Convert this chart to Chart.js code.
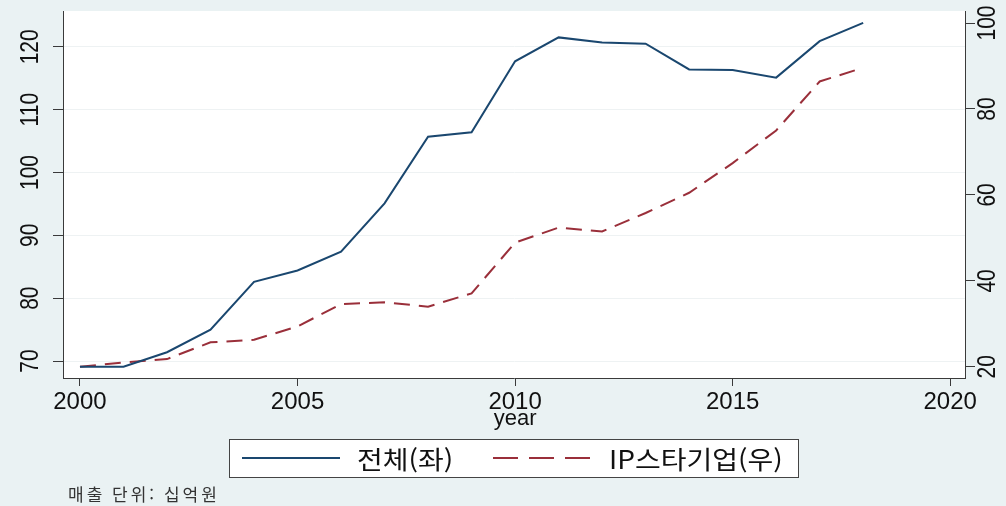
<!DOCTYPE html>
<html lang="ko">
<head>
  <meta charset="UTF-8">
  <title>매출 추이</title>
  <style>
    html, body {
      margin: 0;
      padding: 0;
      background: #eaf2f3;
    }
  </style>
  <script src="https://cdn.jsdelivr.net/npm/chart.js"></script>
</head>
<body>
  <canvas id="chartCanvas" width="1006" height="506"></canvas>

  <script>
    // years and sales (billion won); left axis = all firms, right axis = IP star firms
    const years = [2000, 2001, 2002, 2003, 2004, 2005, 2006, 2007, 2008, 2009,
                   2010, 2011, 2012, 2013, 2014, 2015, 2016, 2017, 2018];
    const totalSales = [69.1, 69.1, 71.4, 75.0, 82.6, 84.4, 87.4, 95.1, 105.7, 106.4,
                        117.7, 121.5, 120.7, 120.5, 116.4, 116.3, 115.1, 120.9, 123.8];
    const ipStarSales = [20.0, 21.0, 21.8, 25.7, 26.3, 29.4, 34.6, 35.0, 34.0, 37.1,
                         48.9, 52.4, 51.5, 55.8, 60.5, 67.4, 75.0, 86.4, 89.6];

    // tick labels
    const xTicks = [2000, 2005, 2010, 2015, 2020];
    const leftTicks = [70, 80, 90, 100, 110, 120];
    const rightTicks = [20, 40, 60, 80, 100];

    const seriesNames = ['전체(좌)', 'IP스타기업(우)'];
    const xTitle = 'year';
    const footnote = '매출 단위: 십억원';

    const NAVY = '#1a476f';
    const MAROON = '#9a2f3a';
    const BG = '#eaf2f3';
    const AXIS = '#3a3a3a';
    const LATIN = '"Liberation Sans", Arial, sans-serif';
    const HANGUL = '"Noto Sans CJK KR", "Liberation Sans", sans-serif';

    function toPoints(values) {
      return years.map((y, i) => ({ x: y, y: values[i] }));
    }

    function fixedTicks(list) {
      return axis => { axis.ticks = list.map(v => ({ value: v })); };
    }

    // rotated tick label, glyphs a bit taller than wide
    function verticalLabel(ctx, text, x, y) {
      ctx.save();
      ctx.translate(x, y);
      ctx.rotate(-Math.PI / 2);
      ctx.scale(1, 1.25);
      ctx.fillText(text, 0, 0);
      ctx.restore();
    }

    // background: light graph region, white plot region
    const backdrop = {
      id: 'backdrop',
      beforeDraw(chart) {
        const { ctx, chartArea: a } = chart;
        ctx.save();
        ctx.fillStyle = BG;
        ctx.fillRect(0, 0, chart.width, chart.height);
        ctx.fillStyle = '#ffffff';
        ctx.fillRect(a.left, a.top, a.right - a.left, a.bottom - a.top);
        ctx.restore();
      }
    };

    // vertical y tick labels, axis title, legend box and note
    const decorations = {
      id: 'decorations',
      afterDraw(chart) {
        const ctx = chart.ctx;
        const yL = chart.scales.y;
        const yR = chart.scales.y1;
        const x = chart.scales.x;
        ctx.save();
        ctx.fillStyle = '#111';
        ctx.font = '21px ' + LATIN;
        ctx.textAlign = 'center';
        ctx.textBaseline = 'middle';
        leftTicks.forEach(v => verticalLabel(ctx, String(v), 31, yL.getPixelForValue(v)));
        rightTicks.forEach(v => verticalLabel(ctx, String(v), 988, yR.getPixelForValue(v)));

        // x axis title
        ctx.font = '22px ' + LATIN;
        ctx.fillText(xTitle, x.getPixelForValue(2010), 419);

        // legend
        ctx.fillStyle = '#ffffff';
        ctx.fillRect(229.5, 439.5, 569, 38);
        ctx.strokeStyle = '#444';
        ctx.lineWidth = 1;
        ctx.strokeRect(229.5, 439.5, 569, 38);

        ctx.lineWidth = 2;
        ctx.strokeStyle = NAVY;
        ctx.beginPath();
        ctx.moveTo(242, 458);
        ctx.lineTo(340, 458);
        ctx.stroke();

        ctx.strokeStyle = MAROON;
        ctx.setLineDash([25, 11]);
        ctx.beginPath();
        ctx.moveTo(493, 458);
        ctx.lineTo(590, 458);
        ctx.stroke();
        ctx.setLineDash([]);

        ctx.fillStyle = '#111';
        ctx.textAlign = 'left';
        ctx.font = '25px ' + HANGUL;
        [[seriesNames[0], 357], [seriesNames[1], 609]].forEach(([t, lx]) => {
          ctx.save();
          ctx.translate(lx, 459);
          ctx.scale(1.12, 1);
          ctx.fillText(t, 0, 0);
          ctx.restore();
        });

        // unit note
        ctx.fillStyle = '#333';
        ctx.font = '17px ' + HANGUL;
        ctx.letterSpacing = '3px';
        ctx.fillText(footnote, 68, 495);
        ctx.restore();
      }
    };

    const ctx = document.getElementById('chartCanvas').getContext('2d');
    new Chart(ctx, {
      type: 'line',
      data: {
        datasets: [
          {
            label: seriesNames[0],
            data: toPoints(totalSales),
            yAxisID: 'y',
            borderColor: NAVY,
            borderWidth: 2,
            pointRadius: 0,
            tension: 0
          },
          {
            label: seriesNames[1],
            data: toPoints(ipStarSales),
            yAxisID: 'y1',
            borderColor: MAROON,
            borderWidth: 2,
            borderDash: [16, 9],
            pointRadius: 0,
            tension: 0
          }
        ]
      },
      plugins: [backdrop, decorations],
      options: {
        responsive: false,
        animation: false,
        layout: { padding: { top: 11, left: 0, right: 0, bottom: 0 } },
        plugins: {
          legend: { display: false },
          tooltip: { enabled: false }
        },
        scales: {
          x: {
            type: 'linear',
            min: 1999.61,
            max: 2020.34,
            afterBuildTicks: fixedTicks(xTicks),
            afterFit: s => { s.height = 128; },
            border: { color: AXIS, width: 1 },
            grid: { drawOnChartArea: false, tickLength: 8, tickColor: AXIS },
            ticks: {
              color: '#111',
              padding: 2,
              maxRotation: 0,
              autoSkip: false,
              font: { family: LATIN, size: 24 },
              callback: v => String(v)
            }
          },
          y: {
            position: 'left',
            min: 67.3,
            max: 125.7,
            afterBuildTicks: fixedTicks(leftTicks),
            afterFit: s => { s.width = 63; },
            border: { color: AXIS, width: 1 },
            grid: { color: '#eef2f3', lineWidth: 1, tickLength: 10, tickColor: AXIS },
            ticks: { display: false }
          },
          y1: {
            position: 'right',
            min: 17.4,
            max: 102.8,
            afterBuildTicks: fixedTicks(rightTicks),
            afterFit: s => { s.width = 41; },
            border: { color: AXIS, width: 1 },
            grid: { drawOnChartArea: false, tickLength: 10, tickColor: AXIS },
            ticks: { display: false }
          }
        }
      }
    });
  </script>
</body>
</html>
